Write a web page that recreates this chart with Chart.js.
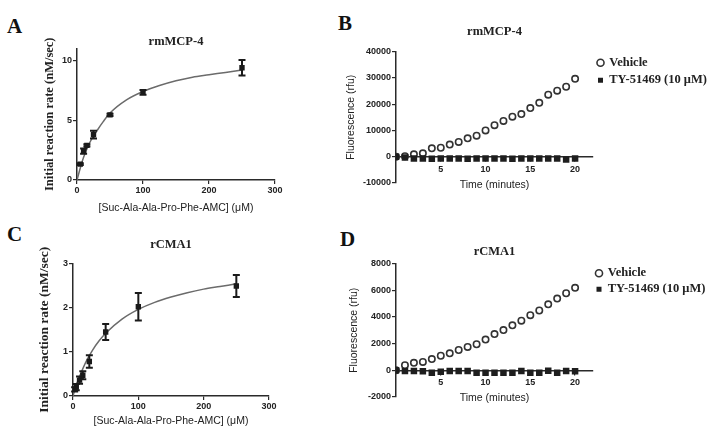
<!DOCTYPE html>
<html>
<head>
<meta charset="utf-8">
<script src="https://cdn.jsdelivr.net/npm/chart.js@4.4.1/dist/chart.umd.min.js"></script>
<style>
  html, body { margin: 0; padding: 0; background: #fff; overflow: hidden; }
  body { width: 714px; height: 440px; position: relative; }
  canvas { position: absolute; }
  .letter { position: absolute; font: bold 21px "Liberation Serif", serif; line-height: 21px; color: #111; }
</style>
</head>
<body>
<div class="letter" style="left:7px;top:16px">A</div>
<div class="letter" style="left:338px;top:13px">B</div>
<div class="letter" style="left:7px;top:224px">C</div>
<div class="letter" style="left:340px;top:229px">D</div>
<canvas id="chartA" width="340" height="220" style="left:0;top:0"></canvas>
<canvas id="chartB" width="374" height="220" style="left:340px;top:0"></canvas>
<canvas id="chartC" width="340" height="220" style="left:0;top:220px"></canvas>
<canvas id="chartD" width="374" height="220" style="left:340px;top:220px"></canvas>
<script>
// rmMCP-4 kinetics (A)
const substrateA = [5, 10, 15, 25, 50, 100, 250]
const rateA = [1.33, 2.42, 2.9, 3.8, 5.45, 7.33, 9.39]
const errA = [0.08, 0.22, 0.1, 0.33, 0.1, 0.2, 0.65]
const fitXA = [0, 5, 10, 20, 30, 40, 50, 75, 100, 125, 150, 175, 200, 225, 250]
const fitYA = [0, 1.0, 1.9, 3.2, 4.1, 4.9, 5.6, 6.7, 7.4, 7.9, 8.3, 8.6, 8.8, 9.0, 9.2]

// rCMA1 kinetics (C)
const substrateC = [2.5, 5, 10, 15, 25, 50, 100, 250]
const rateC = [0.15, 0.2, 0.36, 0.47, 0.78, 1.45, 2.02, 2.49]
const errC = [0.05, 0.07, 0.08, 0.09, 0.14, 0.18, 0.31, 0.25]
const fitXC = [0, 5, 10, 20, 30, 40, 50, 75, 100, 125, 150, 175, 200, 225, 250]
const fitYC = [0, 0.24, 0.44, 0.78, 1.04, 1.25, 1.42, 1.74, 1.96, 2.12, 2.24, 2.34, 2.42, 2.48, 2.54]

// time courses (B, D)
const minutes = [0, 1, 2, 3, 4, 5, 6, 7, 8, 9, 10, 11, 12, 13, 14, 15, 16, 17, 18, 19, 20]
const timeTicks = [5, 10, 15, 20]
const vehicleB = [0, 200, 900, 1300, 3200, 3400, 4600, 5600, 7000, 8000, 10000, 12000, 13600, 15200, 16200, 18500, 20500, 23600, 25100, 26600, 29600]
const inhibB = [0, -300, -700, -700, -750, -700, -700, -700, -750, -700, -700, -700, -700, -750, -700, -700, -700, -700, -700, -1100, -700]
const vehicleD = [0, 380, 560, 630, 840, 1090, 1270, 1520, 1750, 1950, 2300, 2710, 3010, 3370, 3720, 4130, 4480, 4940, 5370, 5770, 6180]
const inhibD = [0, -50, -50, -80, -180, -100, -50, -50, -50, -180, -180, -180, -180, -180, -50, -180, -180, -25, -180, -50, -80]

const seriesNames = ['Vehicle', 'TY-51469 (10 μM)']

const SANS = 'Liberation Sans'
const SERIF = 'Liberation Serif'
const INK = '#222'
const LINE = '#2a2a2a'

const tickFont = { family: SANS, size: 9, weight: 'bold' }

function pairs(xs, ys) {
  return xs.map((x, i) => ({ x: x, y: ys[i] }))
}

function errorBars(xs, ys, errs) {
  return {
    id: 'errorBars',
    afterDatasetsDraw(chart) {
      const { ctx, scales: { x, y } } = chart
      ctx.save()
      ctx.strokeStyle = '#1a1a1a'
      ctx.lineWidth = 2
      xs.forEach((v, i) => {
        const px = x.getPixelForValue(v)
        const top = y.getPixelForValue(ys[i] + errs[i])
        const bot = y.getPixelForValue(ys[i] - errs[i])
        ctx.beginPath()
        ctx.moveTo(px, top); ctx.lineTo(px, bot)
        ctx.moveTo(px - 3.5, top); ctx.lineTo(px + 3.5, top)
        ctx.moveTo(px - 3.5, bot); ctx.lineTo(px + 3.5, bot)
        ctx.stroke()
      })
      ctx.restore()
    }
  }
}

function axisBase() {
  return {
    grid: { drawOnChartArea: false, drawTicks: true, tickLength: 4, color: LINE, lineWidth: 1.2 },
    border: { display: true, color: LINE, width: 1.5 },
  }
}

function kinetics(id, p) {
  return new Chart(document.getElementById(id), {
    type: 'scatter',
    data: {
      datasets: [
        {
          data: pairs(p.xs, p.ys),
          pointStyle: 'rect',
          pointRadius: 3.8,
          backgroundColor: '#1a1a1a',
          borderColor: '#1a1a1a',
          borderWidth: 0,
          order: 0
        },
        {
          type: 'line',
          data: pairs(p.fitX, p.fitY),
          showLine: true,
          pointRadius: 0,
          borderColor: '#6b6b6b',
          borderWidth: 1.5,
          cubicInterpolationMode: 'monotone',
          order: 1
        }
      ]
    },
    plugins: [errorBars(p.xs, p.ys, p.errs)],
    options: {
      responsive: false,
      animation: false,
      layout: { padding: p.pad },
      plugins: {
        legend: { display: false },
        tooltip: { enabled: false },
        title: {
          display: true, text: p.title, fullSize: false, color: INK,
          font: { family: SERIF, size: 12.5, weight: 'bold', lineHeight: 1 },
          padding: { top: 0, bottom: p.titleGap }
        }
      },
      scales: {
        x: {
          ...axisBase(),
          type: 'linear', min: 0, max: 300,
          afterFit: s => { s.height = 40 },
          ticks: { stepSize: 100, padding: 1, font: tickFont, color: INK },
          title: {
            display: true, text: '[Suc-Ala-Ala-Pro-Phe-AMC] (μM)', color: INK,
            font: { family: SANS, size: 10.5 }, padding: { top: 0, bottom: p.xTitlePad }
          }
        },
        y: {
          ...axisBase(),
          min: 0, max: p.yMax,
          afterFit: s => { s.width = p.yWidth },
          ticks: { stepSize: p.yStep, includeBounds: false, padding: 1, font: tickFont, color: INK },
          title: {
            display: true, text: 'Initial reaction rate (nM/sec)', color: INK,
            font: { family: SERIF, size: p.yTitleSize, weight: 'bold' }, padding: { top: p.yTitlePad, bottom: 0 }
          }
        }
      }
    }
  })
}

function timeCourse(id, p) {
  return new Chart(document.getElementById(id), {
    type: 'scatter',
    data: {
      datasets: [
        {
          label: seriesNames[0],
          data: pairs(minutes, p.vehicle),
          pointStyle: 'circle',
          pointRadius: 3.2,
          backgroundColor: '#fff',
          borderColor: '#333',
          borderWidth: 1.6,
          order: 1
        },
        {
          label: seriesNames[1],
          data: pairs(minutes, p.inhib),
          pointStyle: 'rect',
          pointRadius: 4.6,
          backgroundColor: '#1e1e1e',
          borderColor: '#1e1e1e',
          borderWidth: 0,
          order: 0
        }
      ]
    },
    options: {
      responsive: false,
      animation: false,
      layout: { padding: p.pad },
      plugins: {
        tooltip: { enabled: false },
        legend: {
          display: true, position: 'right', align: 'start', fullSize: false, maxWidth: 115,
          labels: {
            usePointStyle: true, boxWidth: 5, boxHeight: 5, padding: p.legendGap, color: INK,
            font: { family: SERIF, size: 12.5, weight: 'bold' },
            sort: (a, b) => a.datasetIndex - b.datasetIndex
          }
        },
        title: {
          display: true, text: p.title, fullSize: false, color: INK,
          font: { family: SERIF, size: 12.5, weight: 'bold', lineHeight: 1 },
          padding: { top: 0, bottom: p.titleGap }
        }
      },
      scales: {
        x: {
          ...axisBase(),
          type: 'linear', min: 0, max: 22,
          position: { y: 0 },
          afterBuildTicks: s => { s.ticks = timeTicks.map(v => ({ value: v })) },
          afterFit: s => { s.height = p.xHeight },
          ticks: { padding: 3, font: tickFont, color: INK },
          title: {
            display: true, text: 'Time (minutes)', color: INK,
            font: { family: SANS, size: 10.5 }, padding: { top: 0, bottom: p.xTitlePad }
          }
        },
        y: {
          ...axisBase(),
          min: p.yMin, max: p.yMax,
          afterFit: s => { s.width = 56 },
          ticks: { stepSize: p.yStep, padding: 1, font: tickFont, color: INK, callback: v => String(v) },
          title: {
            display: true, text: 'Fluorescence (rfu)', color: INK,
            font: { family: SANS, size: 10.5 }, padding: { top: p.yTitlePad, bottom: 0 }
          }
        }
      }
    }
  })
}

kinetics('chartA', {
  title: 'rmMCP-4', xs: substrateA, ys: rateA, errs: errA, fitX: fitXA, fitY: fitYA,
  yMax: 11, yStep: 5, yWidth: 77, yTitleSize: 12.5, yTitlePad: 42.5,
  pad: { left: 0, right: 65, top: 36, bottom: 0 }, titleGap: 0, xTitlePad: 5.7
})

kinetics('chartC', {
  title: 'rCMA1', xs: substrateC, ys: rateC, errs: errC, fitX: fitXC, fitY: fitYC,
  yMax: 3, yStep: 1, yWidth: 73, yTitleSize: 13.5, yTitlePad: 36.9,
  pad: { left: 0, right: 71, top: 18.5, bottom: 4 }, titleGap: 12.5, xTitlePad: 8.7
})

timeCourse('chartB', {
  title: 'rmMCP-4', vehicle: vehicleB, inhib: inhibB,
  yMin: -10000, yMax: 40000, yStep: 10000, yTitlePad: 5,
  pad: { left: 0, right: 6, top: 25.5, bottom: 37 }, titleGap: 13.5,
  xHeight: 36, xTitlePad: 1.4, legendGap: 5
})

timeCourse('chartD', {
  title: 'rCMA1', vehicle: vehicleD, inhib: inhibD,
  yMin: -2000, yMax: 8000, yStep: 2000, yTitlePad: 8,
  pad: { left: 0, right: 6, top: 25.5, bottom: 43 }, titleGap: 5.5,
  xHeight: 40, xTitlePad: 5.4, legendGap: 3.5
})
</script>
</body>
</html>
